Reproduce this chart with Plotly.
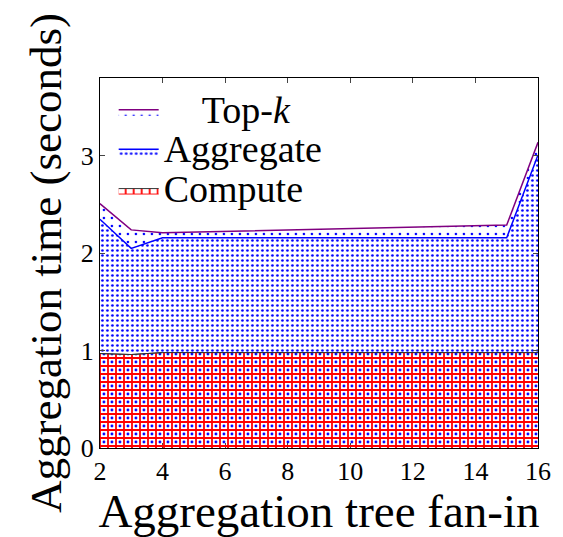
import plotly.graph_objects as go

# Aggregation tree fan-in and the time spent in each stage (seconds)
fan_in = [2, 3, 4, 15, 16]
compute_time = [0.97, 0.96, 0.98, 0.98, 0.98]
aggregate_time = [1.38, 1.09, 1.18, 1.18, 2.03]
topk_time = [0.16, 0.19, 0.05, 0.13, 0.13]

x_ticks = [2, 4, 6, 8, 10, 12, 14, 16]
y_ticks = [0, 1, 2, 3]
x_range = [2, 16]
y_range = [0, 3.8]

serif = "Liberation Serif"
label_px = 38

# Figure geometry (pixels)
W, H = 563, 537
ML, MR, MT, MB = 96, 15, 74, 89
shift = 4  # half a pattern tile: puts the blue dots in the centre of the red grid cells

plot_w = W - ML - MR
plot_h = H - MT - MB
main_w = plot_w - shift
main_h = plot_h - shift
px_per_x = main_w / (x_range[1] - x_range[0])
px_per_y = main_h / (y_range[1] - y_range[0])

# Cumulative stack heights
agg_top = [c + a for c, a in zip(compute_time, aggregate_time)]
topk_top = [t + k for t, k in zip(agg_top, topk_time)]


def label(text):
    return f'<span style="font-size:{label_px}px">{text}</span>'


fig = go.Figure()

# Blue dot layer under the compute grid
fig.add_trace(go.Scatter(
    x=fan_in, y=compute_time, mode="lines", showlegend=False,
    line=dict(color="#333333", width=1), fill="tozeroy", fillcolor="white",
    fillpattern=dict(shape=".", fgcolor="blue", bgcolor="white",
                     size=8, solidity=0.1, fillmode="replace"),
))
fig.add_trace(go.Scatter(
    x=fan_in, y=agg_top, name=label("Aggregate"), mode="lines",
    line=dict(color="blue", width=1.5), fill="tonexty",
    fillpattern=dict(shape=".", fgcolor="blue", bgcolor="white",
                     size=5, solidity=0.22, fillmode="replace"),
    legendrank=2,
))
fig.add_trace(go.Scatter(
    x=fan_in, y=topk_top, name=label("\u2002\u2002Top-<i>k</i>"), mode="lines",
    line=dict(color="purple", width=1.5), fill="tonexty",
    fillpattern=dict(shape=".", fgcolor="blue", bgcolor="white",
                     size=8, solidity=0.08, fillmode="replace"),
    legendrank=3,
))
# Red grid for the compute stage, on a second subplot drawn above the first.
# Its origin is offset by half a tile, with ranges widened so data lands on
# the same pixels.
fig.add_trace(go.Scatter(
    x=fan_in, y=compute_time, name=label("Compute"), mode="lines",
    xaxis="x2", yaxis="y2",
    line=dict(color="#333333", width=1), fill="tozeroy",
    fillcolor="rgba(0,0,0,0)",
    fillpattern=dict(shape="+", fgcolor="#ff0000", bgcolor="rgba(0,0,0,0)",
                     size=8, solidity=0.4, fillmode="replace"),
    legendrank=1,
))

axis_common = dict(
    ticks="inside", ticklen=5, showline=True, linecolor="black", linewidth=1,
    mirror="allticks", showgrid=False, zeroline=False, tickfont=dict(size=26),
)

fig.update_layout(
    width=W, height=H,
    margin=dict(l=ML, r=MR, t=MT, b=MB),
    paper_bgcolor="white", plot_bgcolor="rgba(0,0,0,0)",
    font=dict(family=serif, color="black", size=26),
    showlegend=True,
    legend=dict(x=0.04, y=0.965, xanchor="left", yanchor="top",
                bgcolor="rgba(255,255,255,0)", font=dict(size=28),
                traceorder="reversed", tracegroupgap=0, itemwidth=40),
    xaxis=dict(
        range=x_range, tickvals=x_ticks, domain=[shift / plot_w, 1],
        title=dict(text="Aggregation tree fan-in", font=dict(size=47), standoff=1),
        **axis_common,
    ),
    yaxis=dict(
        range=y_range, tickvals=y_ticks, domain=[0, 1 - shift / plot_h],
        title=dict(text="Aggregation time (seconds)", font=dict(size=45), standoff=4),
        **axis_common,
    ),
    xaxis2=dict(
        range=[x_range[0] - shift / px_per_x, x_range[1]], domain=[0, 1],
        anchor="y2", visible=False,
    ),
    yaxis2=dict(
        range=[y_range[0], y_range[1] + shift / px_per_y], domain=[0, 1],
        anchor="x2", visible=False,
    ),
)

fig.write_html("out.html")
